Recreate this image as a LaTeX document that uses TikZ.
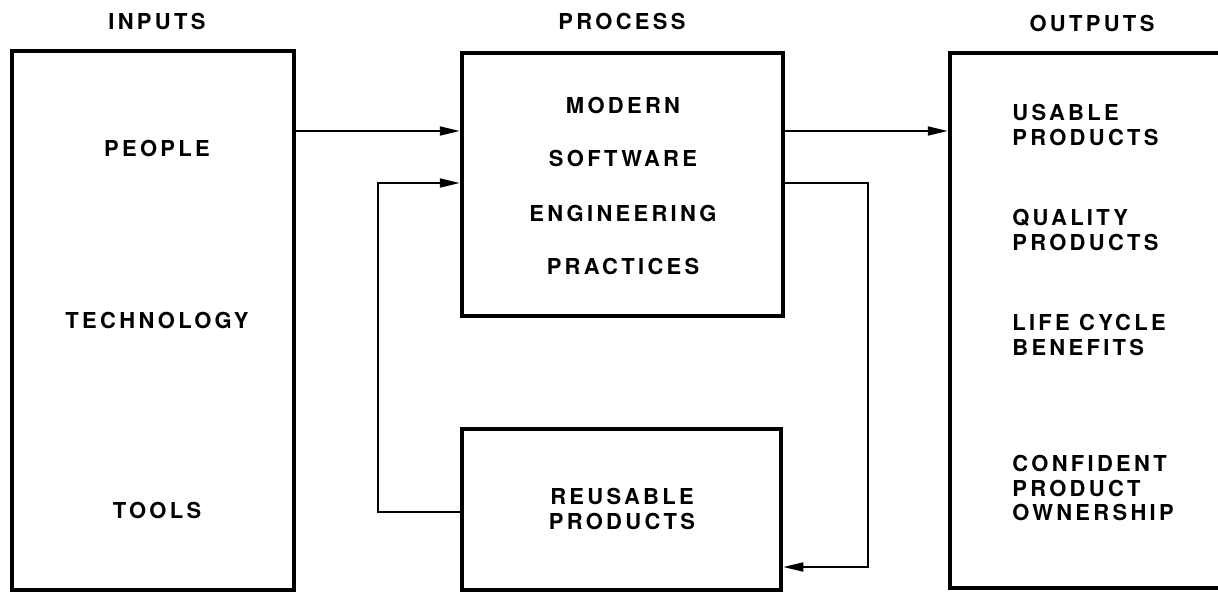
\documentclass[tikz,border=0pt]{standalone}
\usepackage{fontspec}
\usetikzlibrary{arrows.meta}
\newfontfamily\boxfont{TeX Gyre Heros}[LetterSpace=15]
\begin{document}
\begin{tikzpicture}[x=0.02cm,y=-0.02cm]
\tikzstyle{every node}+=[inner sep=0pt, font=\boxfont\bfseries\fontsize{12.5pt}{13.7pt}\selectfont]
\tikzstyle{block}=[draw=black, line width=2.6pt]
\tikzstyle{link}=[black, line width=1pt, -{Triangle[length=4mm,width=1.8mm]}]
\useasboundingbox (0,0) rectangle (1218,596);
\node [block, minimum width=5.64cm, minimum height=10.78cm] (inputs) at (153,320.5) {};
\node [block, minimum width=6.42cm, minimum height=5.26cm] (process) at (622.5,184.5) {};
\node [block, minimum width=6.38cm, minimum height=3.22cm] (reuse) at (621.5,509.5) {};
\node [block, minimum width=5.7cm, minimum height=10.7cm] (outputs) at (1092.5,320.5) {};
\node (intitle) at (157,21) {INPUTS};
\node (proctitle) at (622,21) {PROCESS};
\node (outtitle) at (1092,23) {OUTPUTS};
\node (people) at (157,148) {PEOPLE};
\node (technology) at (157,320) {TECHNOLOGY};
\node (tools) at (157,510) {TOOLS};
\node (modern) at (623,105) {MODERN};
\node (software) at (623,158) {SOFTWARE};
\node (engineering) at (623,213) {ENGINEERING};
\node (practices) at (623,266) {PRACTICES};
\node [align=center] (reusable) at (622,509) {REUSABLE\\PRODUCTS};
\node [anchor=west, align=left] (usable) at (1012,125) {USABLE\\PRODUCTS};
\node [anchor=west, align=left] (quality) at (1012,230) {QUALITY\\PRODUCTS};
\node [anchor=west, align=left] (lifecycle) at (1012,335) {LIFE CYCLE\\BENEFITS};
\node [anchor=west, align=left] (confident) at (1012,488) {CONFIDENT\\PRODUCT\\OWNERSHIP};
\coordinate (row1) at (0,131);
\coordinate (row2) at (0,183);
\coordinate (row3) at (0,512);
\coordinate (row4) at (0,567);
\coordinate (loopl) at (378,0);
\coordinate (loopr) at (868,0);
\draw [link] (inputs.east |- row1) -- (process.west |- row1);
\draw [link] (process.east |- row1) -- (outputs.west |- row1);
\draw [link] (process.east |- row2) -| (loopr |- row4) -- (reuse.east |- row4);
\draw [link] (reuse.west |- row3) -| (loopl |- row2) -- (process.west |- row2);
\end{tikzpicture}
\end{document}
